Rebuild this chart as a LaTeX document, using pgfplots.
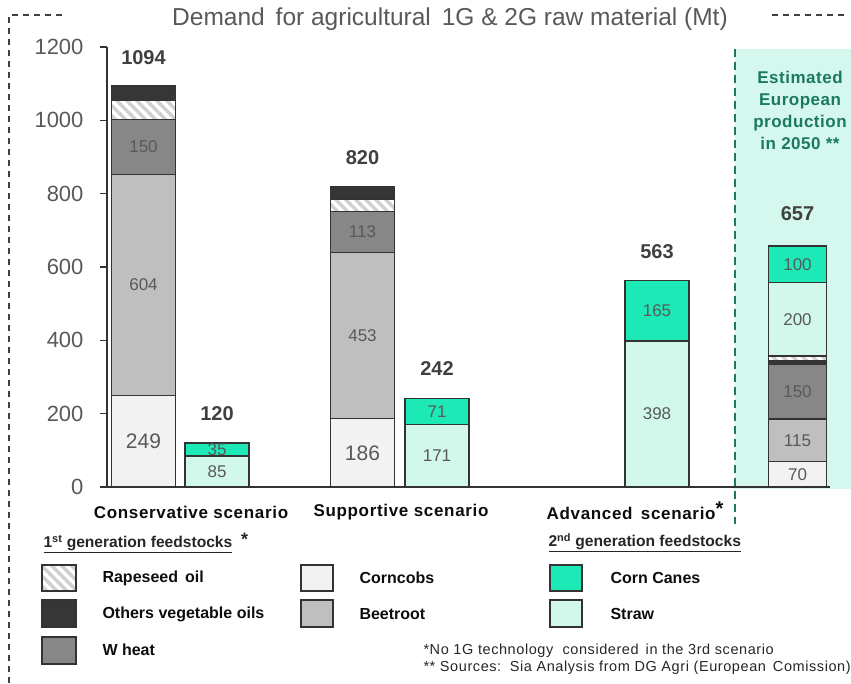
\documentclass[border=0pt]{standalone}
\usepackage{pgfplots}
\pgfplotsset{compat=1.18}
\usepackage{pgfplotstable}
\usepackage{fontspec}
\setmainfont{Liberation Sans}
\newfontfamily\spaced{Liberation Sans}[LetterSpace=4]
\newfontfamily\spacedl{Liberation Sans}[LetterSpace=3]
\usetikzlibrary{patterns}
\definecolor{corncobs}{HTML}{F2F2F2}
\definecolor{beetroot}{HTML}{BFBFBF}
\definecolor{wheat}{HTML}{878787}
\definecolor{others}{HTML}{363636}
\definecolor{canes}{HTML}{1DE9B6}
\definecolor{straw}{HTML}{D2F8EC}
\definecolor{bgmint}{HTML}{D4F8EE}
\definecolor{dkgreen}{HTML}{1B7A5E}
\definecolor{txtgrey}{HTML}{595959}
\definecolor{totgrey}{HTML}{404040}
\definecolor{edge}{HTML}{333333}
\definecolor{stripe}{HTML}{D0D0D0}
\newcommand{\fs}[1]{\fontsize{#1}{#1}\selectfont}

\pgfdeclarepatternformonly{mystripes}{\pgfqpoint{-1pt}{-1pt}}{\pgfqpoint{11pt}{11pt}}{\pgfqpoint{10pt}{10pt}}{%
  \pgfsetlinewidth{3.2pt}%
  \pgfpathmoveto{\pgfqpoint{0pt}{10pt}}\pgfpathlineto{\pgfqpoint{10pt}{0pt}}%
  \pgfpathmoveto{\pgfqpoint{-1pt}{1pt}}\pgfpathlineto{\pgfqpoint{1pt}{-1pt}}%
  \pgfpathmoveto{\pgfqpoint{9pt}{11pt}}\pgfpathlineto{\pgfqpoint{11pt}{9pt}}%
  \pgfusepath{stroke}}

\pgfplotstableread{
x corncobs beetroot wheat rapeseed others straw canes
143.5 249 604 150 51 40 0 0
217 0 0 0 0 0 85 35
362.5 186 453 113 33 35 0 0
437 0 0 0 0 0 171 71
657 0 0 0 0 0 398 165
}\scen
\pgfplotstableread{
x corncobs beetroot wheat others rapeseed straw canes
797.5 70 115 150 9 13 200 100
}\est

\tikzset{
  rapestyle/.style={preaction={fill=white}, pattern=mystripes, pattern color=stripe},
  barbox/.style={draw=edge, line width=1.4pt},
  inl/.style={text=txtgrey, font=\fs{17}},
  inlbig/.style={text=txtgrey, font=\fs{21}},
  tot/.style={text=totgrey, font=\bfseries\fs{20}},
  lg/.style={anchor=west, font=\bfseries\fs{16}, text=black!95},
  cat/.style={font=\spaced\bfseries\fs{17}, text=black!95},
}
\pgfplotsset{frame/.style={at={(107pt,197pt)}, anchor=south west, scale only axis,
  width=723pt, height=440pt, xmin=107, xmax=830, ymin=0, ymax=1200, clip=false}}

\begin{document}
\begin{tikzpicture}[x=1pt,y=1pt]
\useasboundingbox (0,0) rectangle (851,684);
% shaded region
\fill[bgmint] (735,195) rectangle (851,635);
\draw[dkgreen, line width=2pt, dash pattern=on 8pt off 5pt] (735,635) -- (735,160);
% frame
\draw[black!75, line width=1.2pt, dash pattern=on 6pt off 5pt] (62,669) -- (9,669) -- (9,0);
\draw[black!75, line width=1.2pt, dash pattern=on 6pt off 5pt] (772,669) -- (845,669);
% title
\node[text=txtgrey, font=\fs{24.5}] at (450,665) {Demand\, for agricultural\, 1G \& 2G raw material (Mt)};

\begin{axis}[frame,
  axis x line*=bottom, axis y line*=left,
  axis line style={-, edge, line width=1.2pt},
  ytick={0,200,...,1200}, xtick=\empty,
  tick align=outside, major tick length=7pt,
  ytick style={edge, line width=1.2pt},
  y tick label style={text=txtgrey, font=\fs{22}, xshift=-13pt},
  /pgf/number format/assume math mode=true,
  /pgf/number format/1000 sep={},
  ybar stacked, bar width=64]
\addplot[barbox, fill=corncobs] table[x=x,y=corncobs] {\scen};
\addplot[barbox, fill=beetroot] table[x=x,y=beetroot] {\scen};
\addplot[barbox, fill=wheat] table[x=x,y=wheat] {\scen};
\addplot[barbox, rapestyle] table[x=x,y=rapeseed] {\scen};
\addplot[barbox, fill=others] table[x=x,y=others] {\scen};
\addplot[barbox, fill=straw] table[x=x,y=straw] {\scen};
\addplot[barbox, fill=canes] table[x=x,y=canes] {\scen};
\end{axis}

\begin{axis}[frame, hide axis, ybar stacked, bar width=58]
\addplot[barbox, fill=corncobs] table[x=x,y=corncobs] {\est};
\addplot[barbox, fill=beetroot] table[x=x,y=beetroot] {\est};
\addplot[barbox, fill=wheat] table[x=x,y=wheat] {\est};
\addplot[barbox, fill=others] table[x=x,y=others] {\est};
\addplot[barbox, rapestyle] table[x=x,y=rapeseed] {\est};
\addplot[barbox, fill=straw] table[x=x,y=straw] {\est};
\addplot[barbox, fill=canes] table[x=x,y=canes] {\est};
\end{axis}

% value labels on top of the bars
\begin{axis}[frame, hide axis]
\node[inlbig] at (axis cs:143.5,124.5) {249};
\node[inl] at (axis cs:143.5,551) {604};
\node[inl] at (axis cs:143.5,928) {150};
\node[inl] at (axis cs:217,42.5) {85};
\node[inl] at (axis cs:217,103) {35};
\node[inlbig] at (axis cs:362.5,93) {186};
\node[inl] at (axis cs:362.5,412.5) {453};
\node[inl] at (axis cs:362.5,695.5) {113};
\node[inl] at (axis cs:437,85.5) {171};
\node[inl] at (axis cs:437,206.5) {71};
\node[inl] at (axis cs:657,199) {398};
\node[inl] at (axis cs:657,480.5) {165};
\node[inl] at (axis cs:797.5,33) {70};
\node[inl] at (axis cs:797.5,127.5) {115};
\node[inl] at (axis cs:797.5,260) {150};
\node[inl] at (axis cs:797.5,456) {200};
\node[inl] at (axis cs:797.5,607) {100};
\node[tot] at (axis cs:143.5,1172) {1094};
\node[tot] at (axis cs:217,200) {120};
\node[tot] at (axis cs:362.5,898) {820};
\node[tot] at (axis cs:437,322) {242};
\node[tot] at (axis cs:657,643) {563};
\node[tot] at (axis cs:797.5,745) {657};
\end{axis}

% estimated text
\node[align=center, text=dkgreen, font=\spacedl\bfseries\fontsize{17}{22}\selectfont] at (800,574) {Estimated\\European\\production\\in 2050 **};

% category labels
\node[cat] at (191,172) {Conservative scenario};
\node[cat] at (401,172) {Supportive scenario};
\node[cat] at (635,173) {Advanced\, scenario\raisebox{4pt}{\fs{20}*}};

% legend headers
\node[anchor=west, font=\bfseries\fs{15.6}, text=black!85] at (40,141) {\underline{1\textsuperscript{st} generation feedstocks}\ \ \raisebox{2pt}{\fs{18}*}};
\node[anchor=west, font=\bfseries\fs{15.6}, text=black!85] at (545,141) {\underline{2\textsuperscript{nd} generation feedstocks}};

% legend swatches
\draw[edge, line width=1.6pt, rapestyle] (42,93) rectangle (76,119);
\node[lg] at (99,106) {Rapeseed\, oil};
\draw[edge, line width=1.6pt, fill=others] (42,57) rectangle (76,84);
\node[lg] at (99,70) {Others vegetable oils};
\draw[edge, line width=1.6pt, fill=wheat] (42,20) rectangle (76,47);
\node[lg] at (99,34) {W heat};
\draw[edge, line width=1.6pt, fill=corncobs] (301,93) rectangle (333,119);
\node[lg] at (356,106) {Corncobs};
\draw[edge, line width=1.6pt, fill=beetroot] (301,57) rectangle (333,84);
\node[lg] at (356,70) {Beetroot};
\draw[edge, line width=1.6pt, fill=canes] (550,93) rectangle (582,119);
\node[lg] at (607,106) {Corn Canes};
\draw[edge, line width=1.6pt, fill=straw] (550,57) rectangle (582,84);
\node[lg] at (607,70) {Straw};

% footnotes
\node[anchor=west, font=\spaced\fs{14.5}, text=black!85] at (420,33) {*No 1G technology\ \ considered\, in the 3rd scenario};
\node[anchor=west, font=\spaced\fs{14.5}, text=black!85] at (420,16) {** Sources:\, Sia Analysis from DG Agri (European\, Comission)};
\end{tikzpicture}
\end{document}
